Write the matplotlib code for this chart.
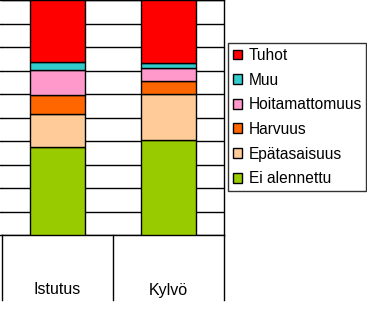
import matplotlib
matplotlib.use("Agg")
import matplotlib.pyplot as plt
from matplotlib.patches import Patch
import numpy as np

plt.rcParams['font.family'] = ['Liberation Sans', 'DejaVu Sans']

categories = ["Istutus", "Kylvö"]
series = ["Ei alennettu", "Epätasaisuus", "Harvuus", "Hoitamattomuus", "Muu", "Tuhot"]
ei_alennettu = [37.3, 40.3]
epatasaisuus = [14.1, 19.6]
harvuus = [8.0, 5.5]
hoitamattomuus = [10.7, 5.5]
muu = [3.4, 2.1]
tuhot = [26.5, 27.0]
colors = ["#99CC00", "#FFCC99", "#FF6600", "#FF99CC", "#33CCCC", "#FF0000"]

values = [ei_alennettu, epatasaisuus, harvuus, hoitamattomuus, muu, tuhot]

W, H = 367, 323
fig = plt.figure(figsize=(W / 100, H / 100), dpi=100)
left_px, right_px, bottom_px, top_px = 1.7, 224.3, 235.0, 0.0
ax = fig.add_axes([left_px / W, 1 - bottom_px / H, (right_px - left_px) / W, (bottom_px - top_px) / H])

x = np.arange(len(categories))
bottom = np.zeros(len(categories))
handles = []
for name, vals, c in zip(series, values, colors):
    ax.bar(x, vals, width=0.5, bottom=bottom, color=c, edgecolor="black", linewidth=1.0, zorder=3)
    bottom += np.array(vals)
    handles.append(Patch(facecolor=c, edgecolor="black", linewidth=1.0, label=name))

ax.set_xlim(-0.5, 1.5)
ax.set_ylim(0, 100)
ax.set_yticks(np.arange(0, 101, 10))
ax.yaxis.grid(True, color="black", linewidth=1.0, zorder=0)
ax.set_axisbelow(True)
ax.tick_params(axis="y", length=2, width=1.0, labelleft=False, color="black")
ax.spines['left'].set_visible(False)
for s in ['right', 'bottom', 'top']:
    ax.spines[s].set_linewidth(1.0)
ax.set_xticks([])

# category label box below the plot
trans = ax.get_xaxis_transform()
depth = -(300 - 235) / (bottom_px - top_px)
for xb in [-0.5, 0.5, 1.5]:
    ax.plot([xb, xb], [0, depth], color="black", linewidth=1.0, transform=trans, clip_on=False)
for xi, lab in zip(x, categories):
    ax.text(xi, -(290 - 235) / (bottom_px - top_px), lab, transform=trans, ha="center", va="center",
            fontsize=11.5, color="black")

leg = fig.legend(handles=handles[::-1], loc="upper left",
                 bbox_to_anchor=(228.3 / W, 1 - 43.3 / H), fontsize=11.2,
                 frameon=True, fancybox=False, edgecolor="black",
                 handlelength=0.6, handleheight=0.6, handletextpad=0.4,
                 labelspacing=0.62, borderpad=0.3, borderaxespad=0)
leg.get_frame().set_linewidth(1.0)

fig.savefig("out.png", dpi=100)
